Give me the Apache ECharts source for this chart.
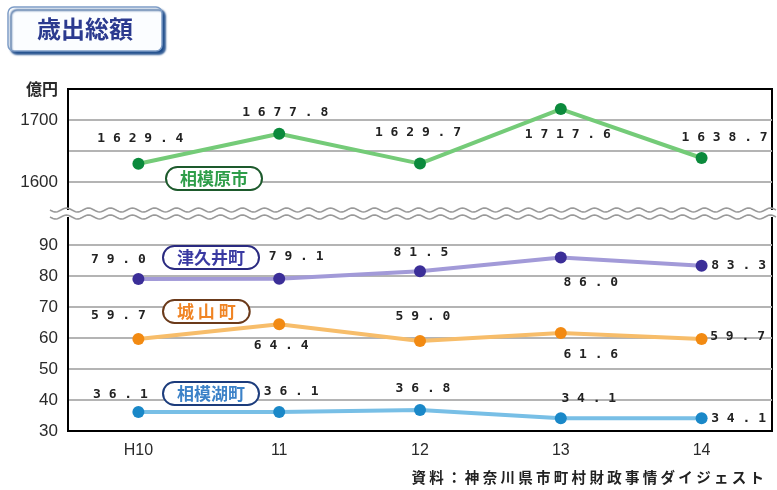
<!DOCTYPE html>
<html>
<head>
<meta charset="utf-8">
<script src="https://cdn.jsdelivr.net/npm/echarts@6/dist/echarts.min.js"></script>
<style>
  html, body { margin: 0; padding: 0; background: #ffffff; }
  #chart { width: 777px; height: 490px; }
</style>
</head>
<body>
<div id="chart"></div>
<script>
// Fiscal years (Heisei)
const years = ['H10', '11', '12', '13', '14'];

// Total expenditure, 億円
const sagamihara = [1629.4, 1677.8, 1629.7, 1717.6, 1638.7];
const tsukui = [79.0, 79.1, 81.5, 86.0, 83.3];
const shiroyama = [59.7, 64.4, 59.0, 61.6, 59.7];
const sagamiko = [36.1, 36.1, 36.8, 34.1, 34.1];

// Tick labels shown on the two value-axis segments
const upperTicks = [1600, 1700];
const lowerTicks = [30, 40, 50, 60, 70, 80, 90];

// Value-label offsets (px) from each point
const offGreen = [[2, -25], [6, -21], [-2, -31], [7, 26], [23, -20]];
const offPurple = [[-20, -19], [17, -22], [1, -19], [30, 25], [37, 0]];
const offOrange = [[-20, -23], [2, 21], [3, -24], [30, 22], [36, -2]];
const offBlue = [[-18, -17], [12, -20], [3, -21], [28, -20], [37, 0]];

const spaced = v => v.toFixed(1).split('').join(' ');

function points(values, offsets) {
  return values.map((v, i) => ({
    value: v,
    label: { offset: offsets[i] }
  }));
}

function lineSeries(name, values, offsets, lineColor, dotColor, axisIdx) {
  return {
    name: name,
    type: 'line',
    xAxisIndex: axisIdx,
    yAxisIndex: axisIdx,
    data: points(values, offsets),
    symbol: 'circle',
    symbolSize: 12,
    lineStyle: { color: lineColor, width: 4 },
    itemStyle: { color: dotColor },
    label: {
      show: true,
      position: 'inside',
      formatter: p => spaced(p.value),
      fontFamily: 'DejaVu Sans Mono',
      fontWeight: 'bold',
      fontSize: 13,
      color: '#222222'
    },
    emphasis: { disabled: true },
    animation: false,
    z: 3
  };
}

function badge(name, left, top, color, border, shown) {
  return {
    data: [name],
    left: left,
    top: top,
    icon: 'none',
    itemWidth: 0,
    itemHeight: 0,
    itemGap: 0,
    selectedMode: false,
    formatter: () => shown,
    textStyle: {
      color: color,
      fontFamily: 'Noto Sans CJK JP',
      fontWeight: 'bold',
      fontSize: 17,
      lineHeight: 17,
      backgroundColor: '#ffffff',
      borderColor: border,
      borderWidth: 2,
      borderRadius: 12,
      padding: [2, 13, 2, 13]
    }
  };
}

// Wavy break lines between the two axis segments
function wave(baseY) {
  const pts = [];
  for (let x = 50; x <= 777; x += 1.5) {
    pts.push([x, baseY + 2 * Math.sin(2 * Math.PI * (x - 50) / 22)]);
  }
  return {
    type: 'polyline',
    z: 101,
    shape: { points: pts },
    style: { stroke: '#9a9a9a', lineWidth: 1.6, fill: null }
  };
}

const gridLine = { show: true, lineStyle: { color: '#b4b4b4', width: 2 } };
const axisText = { fontFamily: 'Liberation Sans', fontSize: 17, color: '#2a2a2a' };

const chart = echarts.init(document.getElementById('chart'), null, { renderer: 'canvas' });

chart.setOption({
  backgroundColor: '#ffffff',
  animation: false,
  title: [
    {
      text: '歳出総額',
      left: 8,
      top: 7,
      padding: [10, 29, 10, 29],
      backgroundColor: '#fbfdff',
      borderColor: '#7d9cc6',
      borderWidth: 1.5,
      borderRadius: 6,
      shadowColor: '#1f4d8c',
      shadowBlur: 2,
      shadowOffsetX: 3,
      shadowOffsetY: 3,
      textStyle: {
        fontFamily: 'Noto Sans CJK JP',
        fontWeight: 'bold',
        fontSize: 24,
        lineHeight: 24,
        color: '#2b3a8f'
      }
    },
    {
      text: '資 料 ： 神 奈 川 県 市 町 村 財 政 事 情 ダ イ ジ ェ ス ト',
      right: 13,
      top: 470,
      padding: 0,
      textStyle: {
        fontFamily: 'Noto Sans CJK JP',
        fontWeight: 'bold',
        fontSize: 14.5,
        color: '#222222'
      }
    }
  ],
  legend: [
    badge('相模原市', 157, 161, '#2f9e4a', '#1d5a2c', '相模原市'),
    badge('津久井町', 154, 240, '#3a3aa2', '#2a2a80', '津久井町'),
    badge('城山町', 154, 294, '#f08424', '#6b3a1a', '城 山 町'),
    badge('相模湖町', 154, 376, '#3c82c8', '#1c3c7c', '相模湖町')
  ],
  grid: [
    { left: 68, right: 5, top: 89, bottom: 277, show: true, borderColor: '#000000', borderWidth: 2 },
    { left: 68, right: 5, top: 214, bottom: 59, show: true, borderColor: '#000000', borderWidth: 2 }
  ],
  xAxis: [
    {
      type: 'category', gridIndex: 0, data: years, boundaryGap: true,
      axisLine: { show: false }, axisTick: { show: false }, axisLabel: { show: false }
    },
    {
      type: 'category', gridIndex: 1, data: years, boundaryGap: true,
      axisLine: { show: true, lineStyle: { color: '#000000', width: 2 } },
      axisTick: { show: false },
      axisLabel: { margin: 12, fontSize: 16, fontFamily: 'Liberation Sans', color: '#2a2a2a' }
    }
  ],
  yAxis: [
    {
      type: 'value', gridIndex: 0, min: 1550, max: 1750, interval: 50,
      name: '億円',
      nameLocation: 'end',
      nameGap: 0,
      nameTextStyle: {
        fontFamily: 'Noto Sans CJK JP', fontWeight: 'bold', fontSize: 16,
        color: '#2a2a2a', align: 'right', verticalAlign: 'middle', padding: [0, 10, 0, 0]
      },
      axisLine: { show: true, lineStyle: { color: '#000000', width: 2 } },
      axisTick: { show: false },
      axisLabel: Object.assign({ margin: 10, formatter: v => upperTicks.includes(v) ? String(v) : '' }, axisText),
      splitLine: Object.assign({ showMinLine: false, showMaxLine: false }, gridLine)
    },
    {
      type: 'value', gridIndex: 1, min: 30, max: 100, interval: 10,
      axisLine: { show: true, lineStyle: { color: '#000000', width: 2 } },
      axisTick: { show: false },
      axisLabel: Object.assign({ margin: 10, formatter: v => lowerTicks.includes(v) ? String(v) : '' }, axisText),
      splitLine: Object.assign({ showMinLine: false, showMaxLine: false }, gridLine)
    }
  ],
  graphic: [
    {
      type: 'rect', z: 100,
      shape: { x: 50, y: 210, width: 727, height: 7 },
      style: { fill: '#ffffff' }
    },
    wave(210),
    wave(217)
  ],
  series: [
    lineSeries('相模原市', sagamihara, offGreen, '#74cb78', '#0b8a3c', 0),
    lineSeries('津久井町', tsukui, offPurple, '#a29ad8', '#3b2e98', 1),
    lineSeries('城山町', shiroyama, offOrange, '#f7bd6a', '#f28a12', 1),
    lineSeries('相模湖町', sagamiko, offBlue, '#78bfe6', '#1a88c8', 1)
  ]
});
</script>
</body>
</html>
